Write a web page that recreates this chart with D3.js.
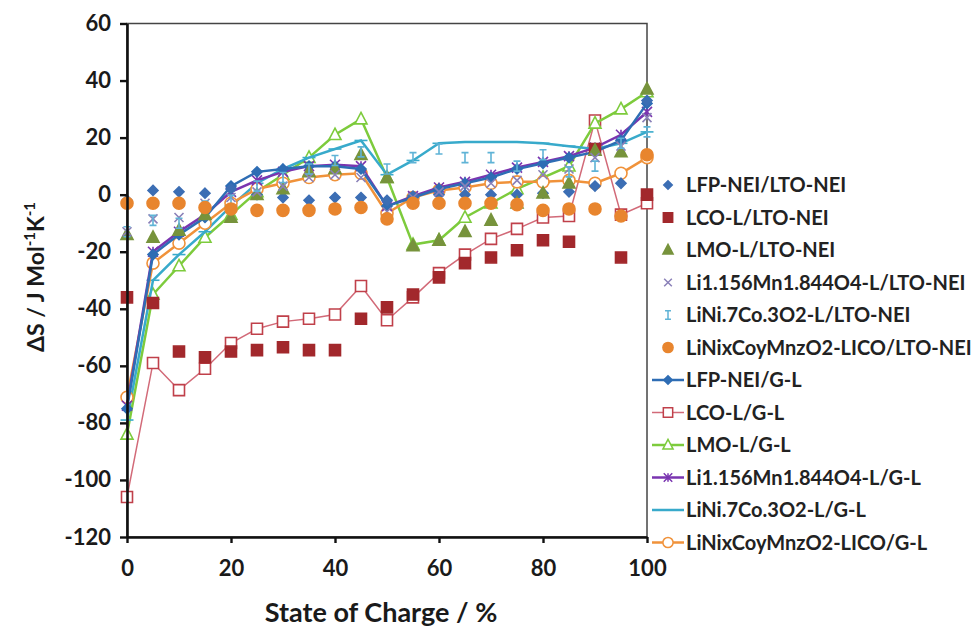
<!DOCTYPE html>
<html><head><meta charset="utf-8">
<script src="https://cdn.jsdelivr.net/npm/d3@7"></script>
<style>body{margin:0;background:#fff}svg{display:block}</style>
</head><body>
<svg id="c" width="973" height="627"></svg>
<script>
const soc = [0,5,10,15,20,25,30,35,40,45,50,55,60,65,70,75,80,85,90,95,100];
const xTicks = [0,20,40,60,80,100];
const yTicks = [-120,-100,-80,-60,-40,-20,0,20,40,60];

const lfpLto   = [-2,1.5,1,0.5,2,0,-1,-2,-1,-1,-2,-0.5,0,0,0,0,0.5,1,3,4,33];
const lcoLto   = [-36,-38,-55,-57,-55,-54.5,-53.5,-54.5,-54.5,-43.5,-39.5,-35,-29,-24,-22,-19.5,-16,-16.5,16,-22,0];
const lmoLto   = [-14,-15,-12.5,-7,-8,0,2,8,9,14,6,-18,-16,-13,-9,-3,0.5,4,15.5,15,37];
const limnLto  = [-13,-8.5,-8,-3,-1,1,3,6,7,6,-6,-1,1,3,4,5,7,9,13,17,27];
const liniLto  = [-13,-9,-10,-4,-2,3,6,9,12,15,9,13,16,13,13,10,14,8,10,18,22];
const nmcLto   = [-3,-3,-3,-4.5,-5,-5.5,-5.5,-5.5,-5,-4.5,-8.5,-3,-3,-3,-3,-3.5,-5.5,-5,-5,-7.5,14];

const lfpGL    = [-75,-21,-14,-8,3,8,9,10,10,9,-4,-1,2,4,6,9,11,13,15,19,32];
const lcoGL    = [-106,-59,-68.5,-61,-52,-47,-44.5,-43.5,-42,-32,-44,-36,-27.5,-21,-15.5,-12,-8,-7.5,26,-7,-3];
const lmoGL    = [-84,-35,-25,-15,-7,1,7,13,21,26.5,6,-17.5,-16,-8,-3,2,6,10,25,30,36];
const limnGL   = [-74,-20,-13,-7,1,5,8,10,10.5,10,-4,-0.5,2.5,4.5,7,9.5,11.5,13.5,16.5,21,29];
const liniGL   = [-79,-30,-21,-13,-4,4,9,13,16,19,7,12,18,18.5,18.5,18.5,18,17,16,18,22];
const nmcGL    = [-71,-24,-17,-10,-3,2,4,6,7,7.5,-6.5,-1,1.5,2.5,4,4.5,4.5,5,4,7.5,13];

const seriesNames = ["LFP-NEI/LTO-NEI","LCO-L/LTO-NEI","LMO-L/LTO-NEI","Li1.156Mn1.844O4-L/LTO-NEI","LiNi.7Co.3O2-L/LTO-NEI","LiNixCoyMnzO2-LICO/LTO-NEI","LFP-NEI/G-L","LCO-L/G-L","LMO-L/G-L","Li1.156Mn1.844O4-L/G-L","LiNi.7Co.3O2-L/G-L","LiNixCoyMnzO2-LICO/G-L"];
const seriesValues = [lfpLto,lcoLto,lmoLto,limnLto,liniLto,nmcLto,lfpGL,lcoGL,lmoGL,limnGL,liniGL,nmcGL];

const styles = [
 {line:false, marker:"diamond", fill:"#3C6EB4", stroke:"#3C6EB4"},
 {line:false, marker:"square", fill:"#A2282C", stroke:"#A2282C"},
 {line:false, marker:"triangle", fill:"#77933C", stroke:"#77933C"},
 {line:false, marker:"x", fill:"none", stroke:"#8A80B8"},
 {line:false, marker:"I", fill:"none", stroke:"#5FB3D6"},
 {line:false, marker:"circle", fill:"#E8852E", stroke:"#E8852E"},
 {line:true, color:"#2E6DB4", marker:"diamond", fill:"#2E6DB4", stroke:"#2E6DB4"},
 {line:true, color:"#D26A78", marker:"square", fill:"#fff", stroke:"#C0404A"},
 {line:true, color:"#7DCB3C", marker:"triangle", fill:"#fff", stroke:"#7DCB3C"},
 {line:true, color:"#7A35B0", marker:"star", fill:"none", stroke:"#7A35B0"},
 {line:true, color:"#38AACB", marker:"dash", fill:"none", stroke:"#38AACB"},
 {line:true, color:"#F0923A", marker:"circle", fill:"#fff", stroke:"#F0923A"}
];

const svg = d3.select("#c");
const L=127, R=647, T=23.5, B=537;
const x = d3.scaleLinear().domain([0,100]).range([L,R]);
const y = d3.scaleLinear().domain([-120,60]).range([B,T]);

svg.append("rect").attr("x",L).attr("y",T).attr("width",R-L).attr("height",B-T)
  .attr("fill","none").attr("stroke","#444").attr("stroke-width",1.5);

function markerPath(type, s){
  switch(type){
    case "diamond": return `M0,${-s}L${s},0L0,${s}L${-s},0Z`;
    case "square": return `M${-s},${-s}H${s}V${s}H${-s}Z`;
    case "triangle": return `M0,${-s*1.1}L${s},${s*0.8}L${-s},${s*0.8}Z`;
    case "x": return `M${-s},${-s}L${s},${s}M${-s},${s}L${s},${-s}`;
    case "I": return `M${-s*0.7},${-s}H${s*0.7}M0,${-s}V${s}M${-s*0.7},${s}H${s*0.7}`;
    case "star": return `M${-s},${-s}L${s},${s}M${-s},${s}L${s},${-s}M0,${-s}V${s}`;
    case "dash": return `M${-s*1.3},0H${s*1.3}`;
    case "circle": return d3.symbol(d3.symbolCircle, Math.PI*s*s)();
  }
}
const mSize = {diamond:5, square:5.5, triangle:6, x:4.5, I:5, circle:6, star:5, dash:5};

const g = svg.append("g");
const order = [7,8,10,11,9,6,0,1,2,3,4,5];
order.forEach(i=>{
  const st = styles[i];
  const data = soc.map((s,k)=>({x:s,y:seriesValues[i][k]}));
  const sg = g.append("g");
  if(st.line){
    sg.append("path").datum(data)
      .attr("d", d3.line().x(d=>x(d.x)).y(d=>y(d.y)))
      .attr("fill","none").attr("stroke",st.color)
      .attr("stroke-width", i===7?1.5:2.5);
  }
  sg.selectAll("path.m").data(data).join("path").attr("class","m")
    .attr("transform",d=>`translate(${x(d.x)},${y(d.y)})`)
    .attr("d", markerPath(st.marker, mSize[st.marker]))
    .attr("fill", st.fill).attr("stroke", st.stroke)
    .attr("stroke-width", 1.6);
});

const fontFam = "Lato, 'Open Sans', sans-serif";
const xAxis = svg.append("g").attr("transform",`translate(0,${B})`)
  .call(d3.axisBottom(x).tickValues(xTicks).tickFormat(d=>String(d)).tickSize(6).tickSizeOuter(0).tickPadding(17));
const yAxis = svg.append("g").attr("transform",`translate(${L},0)`)
  .call(d3.axisLeft(y).tickValues(yTicks).tickFormat(d=>String(d)).tickSize(7).tickSizeOuter(0).tickPadding(9));
[xAxis,yAxis].forEach(a=>{
  a.select(".domain").attr("stroke","#111").attr("stroke-width",2.6);
  a.selectAll(".tick line").attr("stroke","#111").attr("stroke-width",2.4);
  a.selectAll(".tick text").attr("fill","#1a1a1a").attr("font-family",fontFam)
    .attr("font-size",22).attr("font-weight","bold");
});

svg.append("text").attr("x",381).attr("y",622).attr("text-anchor","middle")
  .attr("font-family",fontFam).attr("font-size",27).attr("font-weight","bold").attr("fill","#1a1a1a")
  .text("State of Charge / %");

const yt = svg.append("text").attr("transform","translate(44,277) rotate(-90)").attr("text-anchor","middle")
  .attr("font-family",fontFam).attr("font-size",23).attr("font-weight","bold").attr("fill","#1a1a1a");
yt.append("tspan").text("ΔS / J Mol");
yt.append("tspan").attr("dy",-9).attr("font-size",15).text("-1");
yt.append("tspan").attr("dy",9).text("K");
yt.append("tspan").attr("dy",-9).attr("font-size",15).text("-1");

const lg = svg.append("g");
seriesNames.forEach((name,i)=>{
  const st = styles[i];
  const yy = 185 + i*32.5;
  const row = lg.append("g").attr("transform",`translate(0,${yy})`);
  if(st.line){
    row.append("line").attr("x1",652).attr("x2",684).attr("y1",0).attr("y2",0)
      .attr("stroke",st.color).attr("stroke-width",i===7?1.5:2.5);
  }
  row.append("path").attr("transform","translate(668,0)")
    .attr("d", markerPath(st.marker, mSize[st.marker]*0.85))
    .attr("fill",st.fill).attr("stroke",st.stroke).attr("stroke-width",1.5);
  row.append("text").attr("x",686).attr("y",7).attr("font-family",fontFam)
    .attr("font-size",20).attr("font-weight","bold").attr("fill","#222").text(name);
});
</script>
</body></html>
